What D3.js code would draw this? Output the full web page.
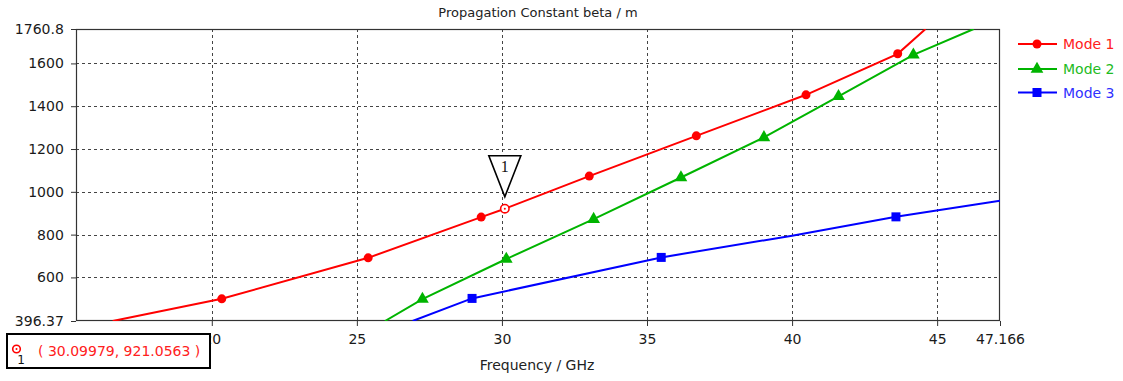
<!DOCTYPE html>
<html>
<head>
<meta charset="utf-8">
<script src="https://cdn.jsdelivr.net/npm/d3@7/dist/d3.min.js"></script>
<style>
  html, body { margin: 0; padding: 0; background: #fff; }
  svg { display: block; font-family: "DejaVu Sans", Verdana, sans-serif; }
</style>
</head>
<body>
<svg id="chart" width="1123" height="381"></svg>
<script>
// ---- data ----
const title = "Propagation Constant beta / m";
const xLabel = "Frequency / GHz";
const xDomain = [15.32, 47.166];
const yDomain = [396.37, 1760.8];
const xTickValues = [20, 25, 30, 35, 40, 45, 47.166];
const xTickLabels = ["20", "25", "30", "35", "40", "45", "47.166"];
const yTickValues = [396.37, 600, 800, 1000, 1200, 1400, 1600, 1760.8];
const yTickLabels = ["396.37", "600", "800", "1000", "1200", "1400", "1600", "1760.8"];
const xGrid = [20, 25, 30, 35, 40, 45];
const yGrid = [600, 800, 1000, 1200, 1400, 1600];

const seriesNames = ["Mode 1", "Mode 2", "Mode 3"];
const mode1Freq = [16.585, 20.344, 25.39, 29.285, 30.1, 33.01, 36.70, 40.48, 43.64, 44.6];
const mode1Beta = [396.37, 500, 691.6, 881.8, 921.06, 1073.4, 1261.7, 1453.3, 1644.9, 1760.8];
const mode1Markers = [1, 2, 3, 5, 6, 7, 8];
const mode2Freq = [25.97, 27.26, 30.15, 33.16, 36.17, 39.03, 41.60, 44.18, 46.26];
const mode2Beta = [396.37, 499, 686, 872, 1067, 1254, 1446, 1640, 1760.8];
const mode2Markers = [1, 2, 3, 4, 5, 6, 7];
const mode3Freq = [26.92, 28.97, 35.49, 40, 43.58, 47.166];
const mode3Beta = [396.37, 501.9, 693.5, 795, 883, 958];
const mode3Markers = [1, 2, 4];

const markerPoint = { label: "1", freq: 30.09979, beta: 921.0563 };

// ---- layout ----
const svg = d3.select("#chart");
const L = 76, R = 1000, T = 29, B = 321;
const x = d3.scaleLinear().domain(xDomain).range([L, R]);
const y = d3.scaleLinear().domain(yDomain).range([B, T]);

const colors = ["#ff0000", "#00b400", "#0000ff"];
const textColors = ["#ff2020", "#22bb22", "#3030ff"];

// title
svg.append("text").attr("x", 538).attr("y", 17).attr("text-anchor", "middle")
  .attr("font-size", 13).attr("fill", "#222").text(title);

// grid
const grid = svg.append("g").attr("stroke", "#444").attr("stroke-width", 1)
  .attr("stroke-dasharray", "3,3");
xGrid.forEach(v => grid.append("line")
  .attr("x1", Math.round(x(v)) + 0.5).attr("x2", Math.round(x(v)) + 0.5)
  .attr("y1", T).attr("y2", B));
yGrid.forEach(v => grid.append("line")
  .attr("x1", L).attr("x2", R)
  .attr("y1", Math.round(y(v)) + 0.5).attr("y2", Math.round(y(v)) + 0.5));

// axes
const xAxis = d3.axisBottom(x).tickValues(xTickValues)
  .tickFormat((d, i) => xTickLabels[i]).tickSize(5).tickSizeOuter(0);
const yAxis = d3.axisLeft(y).tickValues(yTickValues)
  .tickFormat((d, i) => yTickLabels[i]).tickSize(5).tickSizeOuter(0);

const gx = svg.append("g").attr("transform", `translate(0,${B})`).call(xAxis);
const gy = svg.append("g").attr("transform", `translate(${L},0)`).call(yAxis);
[gx, gy].forEach(g => {
  g.select(".domain").remove();
  g.selectAll(".tick line").attr("stroke", "#333");
  g.selectAll(".tick text").attr("font-size", 14).attr("fill", "#1a1a1a")
    .attr("font-family", "DejaVu Sans, Verdana, sans-serif");
});
gx.selectAll(".tick text").attr("dy", "1.1em");
gy.selectAll(".tick text").attr("dx", "-0.3em");

// frame
svg.append("rect").attr("x", L + 0.5).attr("y", T + 0.5)
  .attr("width", R - L - 1).attr("height", B - T - 1)
  .attr("fill", "none").attr("stroke", "#333").attr("stroke-width", 1.2);

// x label
svg.append("text").attr("x", 537).attr("y", 370).attr("text-anchor", "middle")
  .attr("font-size", 14).attr("fill", "#222").text(xLabel);

// clip
svg.append("clipPath").attr("id", "clip").append("rect")
  .attr("x", L).attr("y", T).attr("width", R - L).attr("height", B - T);

const series = [
  { f: mode1Freq, b: mode1Beta, m: mode1Markers, sym: "circle" },
  { f: mode2Freq, b: mode2Beta, m: mode2Markers, sym: "triangle" },
  { f: mode3Freq, b: mode3Beta, m: mode3Markers, sym: "square" }
];

const line = d3.line().x(d => x(d[0])).y(d => y(d[1]));
const plot = svg.append("g").attr("clip-path", "url(#clip)");

function drawMarker(g, sym, cx, cy, color) {
  if (sym === "circle") {
    g.append("circle").attr("cx", cx).attr("cy", cy).attr("r", 4.5).attr("fill", color);
  } else if (sym === "triangle") {
    g.append("path").attr("d", d3.symbol(d3.symbolTriangle, 70)())
      .attr("transform", `translate(${cx},${cy})`).attr("fill", color);
  } else {
    g.append("rect").attr("x", cx - 4.5).attr("y", cy - 4.5)
      .attr("width", 9).attr("height", 9).attr("fill", color);
  }
}

series.forEach((s, i) => {
  const pts = s.f.map((f, k) => [f, s.b[k]]);
  plot.append("path").attr("d", line(pts)).attr("fill", "none")
    .attr("stroke", colors[i]).attr("stroke-width", 2);
  s.m.forEach(k => drawMarker(svg, s.sym, x(s.f[k]), y(s.b[k]), colors[i]));
});

// marker point on Mode 1
const mx = x(markerPoint.freq), my = y(markerPoint.beta);
svg.append("circle").attr("cx", mx).attr("cy", my).attr("r", 4.2)
  .attr("fill", "#fff").attr("stroke", "#ff0000").attr("stroke-width", 1.6);
svg.append("circle").attr("cx", mx).attr("cy", my).attr("r", 1).attr("fill", "#ff0000");

// marker flag (inverted triangle)
const apexY = my - 12;
svg.append("path")
  .attr("d", `M${mx - 16},${apexY - 41} L${mx + 16},${apexY - 41} L${mx},${apexY} Z`)
  .attr("fill", "#fff").attr("stroke", "#000").attr("stroke-width", 1.6);
svg.append("text").attr("x", mx).attr("y", apexY - 25).attr("text-anchor", "middle")
  .attr("font-family", "Liberation Serif, serif").attr("font-size", 16).attr("fill", "#111")
  .text(markerPoint.label);

// legend
series.forEach((s, i) => {
  const ly = [44, 69, 92.5][i];
  svg.append("line").attr("x1", 1018).attr("x2", 1057).attr("y1", ly).attr("y2", ly)
    .attr("stroke", colors[i]).attr("stroke-width", 2);
  drawMarker(svg, s.sym, 1037, ly, colors[i]);
  svg.append("text").attr("x", 1063).attr("y", ly + 5).attr("font-size", 14)
    .attr("fill", textColors[i]).text(seriesNames[i]);
});

// readout box
svg.append("rect").attr("x", 7).attr("y", 334).attr("width", 203).attr("height", 34)
  .attr("fill", "#fff").attr("stroke", "#000").attr("stroke-width", 2);
svg.append("circle").attr("cx", 16.5).attr("cy", 349).attr("r", 3.8)
  .attr("fill", "#fff").attr("stroke", "#ff0000").attr("stroke-width", 1.6);
svg.append("circle").attr("cx", 16.5).attr("cy", 349).attr("r", 1).attr("fill", "#ff0000");
svg.append("text").attr("x", 21).attr("y", 364).attr("text-anchor", "middle")
  .attr("font-size", 12).attr("fill", "#111").text(markerPoint.label);
svg.append("text").attr("x", 38).attr("y", 356).attr("font-size", 14)
  .attr("fill", "#ff2020")
  .text(`( ${markerPoint.freq}, ${markerPoint.beta} )`);
</script>
</body>
</html>
